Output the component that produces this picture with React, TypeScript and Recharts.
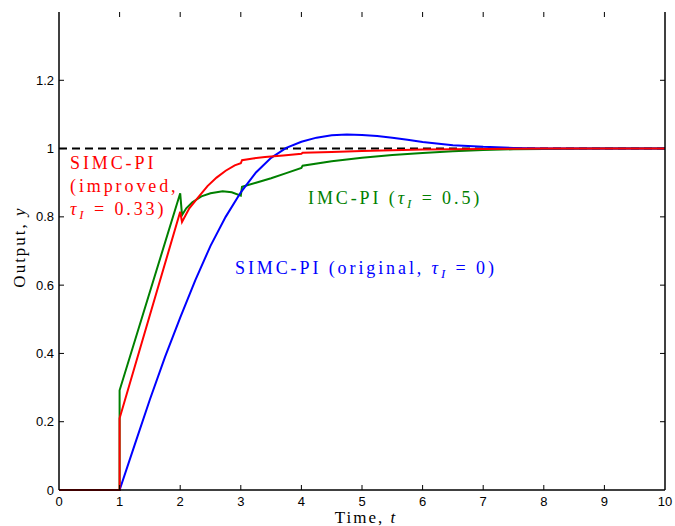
import { LineChart, Line, XAxis, YAxis } from 'recharts';

// time axis ticks and output axis ticks
const xTicks = [0, 1, 2, 3, 4, 5, 6, 7, 8, 9, 10];
const yTicks = [0, 0.2, 0.4, 0.6, 0.8, 1, 1.2];

// setpoint (dashed)
const setT = [0, 10];
const setY = [1, 1];

// SIMC-PI improved (red)
const redT = [0, 1, 1, 2, 2.03, 2.15, 2.3, 2.45, 2.6, 2.75, 2.9, 3.0, 3.02, 3.2, 3.4, 3.7, 4.0, 4.02, 4.5, 5, 6, 7, 8, 10];
const redY = [0, 0, 0.21, 0.815, 0.785, 0.825, 0.858, 0.89, 0.915, 0.935, 0.951, 0.957, 0.966, 0.971, 0.975, 0.98, 0.985, 0.988, 0.99, 0.993, 0.997, 0.999, 1, 1];

// IMC-PI (green)
const greenT = [0, 1, 1, 2, 2.03, 2.1, 2.2, 2.35, 2.5, 2.7, 2.85, 3.0, 3.02, 3.25, 3.5, 3.75, 4.0, 4.02, 4.5, 5, 5.5, 6, 6.5, 7, 7.5, 8, 9, 10];
const greenY = [0, 0, 0.292, 0.869, 0.805, 0.825, 0.843, 0.86, 0.869, 0.875, 0.872, 0.862, 0.888, 0.9, 0.913, 0.928, 0.943, 0.95, 0.963, 0.973, 0.981, 0.987, 0.992, 0.996, 0.998, 0.999, 1, 1];

// SIMC-PI original (blue)
const blueT = [0, 1, 1.25, 1.5, 1.75, 2, 2.25, 2.5, 2.75, 3, 3.25, 3.5, 3.75, 4, 4.25, 4.5, 4.75, 5, 5.25, 5.5, 5.75, 6, 6.5, 7, 7.5, 8, 9, 10];
const blueY = [0, 0, 0.133, 0.265, 0.39, 0.505, 0.615, 0.715, 0.8, 0.872, 0.93, 0.973, 1.002, 1.02, 1.032, 1.039, 1.041, 1.04, 1.037, 1.032, 1.026, 1.019, 1.01, 1.005, 1.002, 1.0, 1.0, 1.0];

const pts = (ts: number[], ys: number[]) => ts.map((t, i) => ({ t, y: ys[i] }));

const X_MAX = 10;
const Y_MAX = 1.4;
// plot box (margin + axis sizes below)
const PL = 59, PR = 665, PT = 12, PB = 490;
const TL = 5; // inward tick length
// inward tick length in axis units for the top/right ticks
const tickDy = (TL / (PB - PT)) * Y_MAX;
const tickDx = (TL / (PR - PL)) * X_MAX;

type P = { t: number; y: number | null };
// short segments separated by nulls so one <Line> draws all ticks on a side
const segs = (list: [P, P][]) => list.flatMap(([a, b]) => [a, b, { t: b.t, y: null }]);
const inner = xTicks.slice(1, -1);
const innerY = yTicks.slice(1);
const tickTop = segs(inner.map((v) => [{ t: v, y: Y_MAX }, { t: v, y: Y_MAX - tickDy }]));
const tickRight = segs(innerY.map((v) => [{ t: X_MAX - tickDx, y: v }, { t: X_MAX, y: v }]));

const sx = (v: number) => PL + (v / X_MAX) * (PR - PL);
const sy = (v: number) => PB - (v / Y_MAX) * (PB - PT);

const serif = 'Liberation Serif';
const tickFont = { fill: '#000', fontSize: 13, fontFamily: 'Liberation Sans' };

const Tau = () => (
  <>
    <i>τ</i>
    <i style={{ fontSize: '0.72em', position: 'relative', top: '0.3em' }}>I</i>
  </>
);

const note = (color: string, left: number, top: number) => ({
  position: 'absolute' as const,
  left,
  top,
  color,
  fontFamily: serif,
  fontSize: 18,
  lineHeight: '23px',
  letterSpacing: '2.9px',
  whiteSpace: 'nowrap' as const,
});

const tickLine = (data: P[], key: string) => (
  <Line key={key} xAxisId="b" yAxisId="l" data={data} dataKey="y" type="linear" stroke="#000"
    strokeWidth={1} dot={false} connectNulls={false} isAnimationActive={false} />
);

export default function App() {
  return (
    <div style={{ position: 'relative', width: 675, height: 526, background: '#fff' }}>
      <style>{'body{margin:0}'}</style>
      <LineChart width={675} height={526} margin={{ top: PT, right: 0, bottom: 0, left: 0 }}>
        <XAxis xAxisId="b" type="number" dataKey="t" domain={[0, X_MAX]} ticks={xTicks} height={526 - PB}
          tickSize={0} tickMargin={7} tickLine={false} stroke="#000" strokeWidth={1.5} tick={tickFont} />
        <XAxis xAxisId="t" orientation="top" type="number" dataKey="t" domain={[0, X_MAX]} ticks={xTicks} height={0}
          tickLine={false} tick={false} stroke="#000" strokeWidth={1.5} />
        <YAxis yAxisId="l" type="number" domain={[0, Y_MAX]} ticks={yTicks} width={PL}
          tickSize={0} tickMargin={5} tickLine={false} stroke="#000" strokeWidth={1.5} tick={tickFont} />
        <YAxis yAxisId="r" orientation="right" type="number" domain={[0, Y_MAX]} ticks={yTicks} width={675 - PR}
          tickLine={false} tick={false} stroke="#000" strokeWidth={1.5} />

        {tickLine(tickTop, 'tt')}
        {tickLine(tickRight, 'tr')}

        <Line xAxisId="b" yAxisId="l" data={pts(setT, setY)} dataKey="y" type="linear" stroke="#000"
          strokeWidth={2} strokeDasharray="8 5" dot={false} isAnimationActive={false} />
        <Line xAxisId="b" yAxisId="l" data={pts(greenT, greenY)} dataKey="y" type="linear" stroke="#008000"
          strokeWidth={2} dot={false} isAnimationActive={false} />
        <Line xAxisId="b" yAxisId="l" data={pts(blueT, blueY)} dataKey="y" type="linear" stroke="#0000ff"
          strokeWidth={2} dot={false} isAnimationActive={false} />
        <Line xAxisId="b" yAxisId="l" data={pts(redT, redY)} dataKey="y" type="linear" stroke="#ff0000"
          strokeWidth={2} dot={false} isAnimationActive={false} />
      </LineChart>

      {/* inward ticks on the bottom and left frame */}
      <svg width={675} height={526} style={{ position: 'absolute', left: 0, top: 0, pointerEvents: 'none' }}>
        {inner.map((v) => (
          <line key={`b${v}`} x1={sx(v)} x2={sx(v)} y1={PB} y2={PB - TL} stroke="#000" strokeWidth={1} />
        ))}
        {innerY.map((v) => (
          <line key={`l${v}`} x1={PL} x2={PL + TL} y1={sy(v)} y2={sy(v)} stroke="#000" strokeWidth={1} />
        ))}
      </svg>

      <div style={note('#ff0000', 70, 152)}>
        SIMC-PI<br />(improved,<br /><Tau /> = 0.33)
      </div>
      <div style={note('#008000', 308, 187)}>
        IMC-PI (<Tau /> = 0.5)
      </div>
      <div style={note('#0000ff', 235, 257)}>
        SIMC-PI (original, <Tau /> = 0)
      </div>

      <div style={{ position: 'absolute', left: 0, width: 732, top: 511, textAlign: 'center', fontFamily: serif,
        fontSize: 17, lineHeight: '14px', letterSpacing: '2px', color: '#000' }}>
        Time, <i>t</i>
      </div>
      <div style={{ position: 'absolute', left: 20, top: 247, transform: 'translate(-50%, -50%) rotate(-90deg)',
        fontFamily: serif, fontSize: 17, lineHeight: '22px', letterSpacing: '2px', color: '#000', whiteSpace: 'nowrap' }}>
        Output, <i>y</i>
      </div>
    </div>
  );
}
